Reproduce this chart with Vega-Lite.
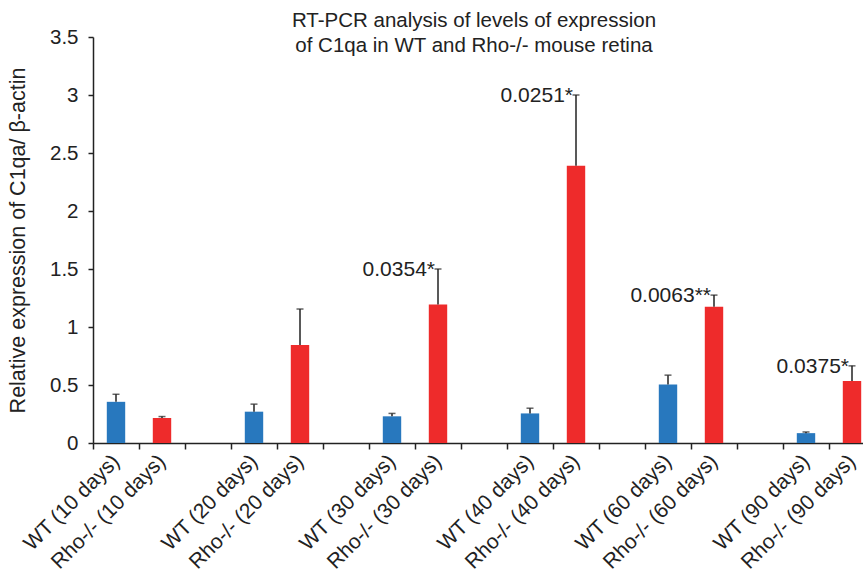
{
  "$schema": "https://vega.github.io/schema/vega-lite/v6.json",
  "width": 782,
  "height": 406,
  "padding": {"left": 7, "top": 10, "right": 0, "bottom": 0},
  "title": {
    "text": ["RT-PCR analysis of levels of expression", "of C1qa in WT and Rho-/- mouse retina"],
    "fontSize": 20.5,
    "fontWeight": "normal",
    "font": "Liberation Sans",
    "color": "#222222",
    "lineHeight": 25,
    "anchor": "middle",
    "dx": -10,
    "offset": -29
  },
  "data": {
    "values": [
      {"label": "WT (10 days)", "group": "WT", "value": 0.355, "errTop": 0.42, "annot": null},
      {"label": "Rho-/- (10 days)", "group": "Rho-/-", "value": 0.215, "errTop": 0.228, "annot": null},
      {"label": "WT (20 days)", "group": "WT", "value": 0.27, "errTop": 0.335, "annot": null},
      {"label": "Rho-/- (20 days)", "group": "Rho-/-", "value": 0.845, "errTop": 1.155, "annot": null},
      {"label": "WT (30 days)", "group": "WT", "value": 0.23, "errTop": 0.255, "annot": null},
      {"label": "Rho-/- (30 days)", "group": "Rho-/-", "value": 1.195, "errTop": 1.5, "annot": "0.0354*"},
      {"label": "WT (40 days)", "group": "WT", "value": 0.255, "errTop": 0.3, "annot": null},
      {"label": "Rho-/- (40 days)", "group": "Rho-/-", "value": 2.39, "errTop": 3.0, "annot": "0.0251*"},
      {"label": "WT (60 days)", "group": "WT", "value": 0.505, "errTop": 0.585, "annot": null},
      {"label": "Rho-/- (60 days)", "group": "Rho-/-", "value": 1.175, "errTop": 1.275, "annot": "0.0063**"},
      {"label": "WT (90 days)", "group": "WT", "value": 0.085, "errTop": 0.095, "annot": null},
      {"label": "Rho-/- (90 days)", "group": "Rho-/-", "value": 0.535, "errTop": 0.665, "annot": "0.0375*"}
    ]
  },
  "encoding": {
    "x": {
      "field": "label",
      "type": "nominal",
      "sort": null,
      "scale": {
        "domain": ["WT (10 days)", "Rho-/- (10 days)", "gap1", "WT (20 days)", "Rho-/- (20 days)", "gap2", "WT (30 days)", "Rho-/- (30 days)", "gap3", "WT (40 days)", "Rho-/- (40 days)", "gap4", "WT (60 days)", "Rho-/- (60 days)", "gap5", "WT (90 days)", "Rho-/- (90 days)"],
        "paddingInner": 0,
        "paddingOuter": 0
      },
      "axis": {
        "title": null,
        "labelExpr": "indexof(datum.label, 'gap') === 0 ? '' : datum.label",
        "labelAngle": -45,
        "labelAlign": "right",
        "labelBaseline": "middle",
        "labelFontSize": 21,
        "labelPadding": 9,
        "labelColor": "#222222",
        "labelOverlap": false,
        "labelLimit": 300,
        "tickBand": "extent",
        "tickSize": 6,
        "tickColor": "#222222",
        "tickWidth": 1.5,
        "domainColor": "#222222",
        "domainWidth": 1.5
      }
    }
  },
  "layer": [
    {
      "mark": {"type": "bar", "width": {"band": 0.4}},
      "encoding": {
        "y": {
          "field": "value",
          "type": "quantitative",
          "scale": {"domain": [0, 3.5], "nice": false},
          "axis": {
            "title": "Relative expression of C1qa/ β-actin",
            "titleFontSize": 21.5,
            "titleFontWeight": "normal",
            "titleColor": "#222222",
            "titlePadding": 20,
            "values": [0, 0.5, 1, 1.5, 2, 2.5, 3, 3.5],
            "format": "~g",
            "labelFontSize": 20.5,
            "labelColor": "#222222",
            "labelPadding": 10,
            "tickSize": 5,
            "tickColor": "#222222",
            "tickWidth": 1.5,
            "domainColor": "#222222",
            "domainWidth": 1.5,
            "grid": false
          }
        },
        "color": {
          "field": "group",
          "type": "nominal",
          "scale": {"domain": ["WT", "Rho-/-"], "range": ["#2878be", "#ee2b2b"]},
          "legend": null
        }
      }
    },
    {
      "mark": {"type": "rule", "color": "#222222", "strokeWidth": 1.5},
      "encoding": {
        "y": {"field": "value", "type": "quantitative"},
        "y2": {"field": "errTop"}
      }
    },
    {
      "mark": {"type": "tick", "color": "#222222", "thickness": 1.5, "size": 7},
      "encoding": {
        "y": {"field": "errTop", "type": "quantitative"}
      }
    },
    {
      "transform": [{"filter": "datum.annot != null"}],
      "mark": {"type": "text", "align": "right", "baseline": "middle", "dx": -3, "dy": 1, "fontSize": 21, "color": "#222222"},
      "encoding": {
        "y": {"field": "errTop", "type": "quantitative"},
        "text": {"field": "annot"}
      }
    }
  ],
  "config": {
    "view": {"stroke": null},
    "font": "Liberation Sans"
  }
}
